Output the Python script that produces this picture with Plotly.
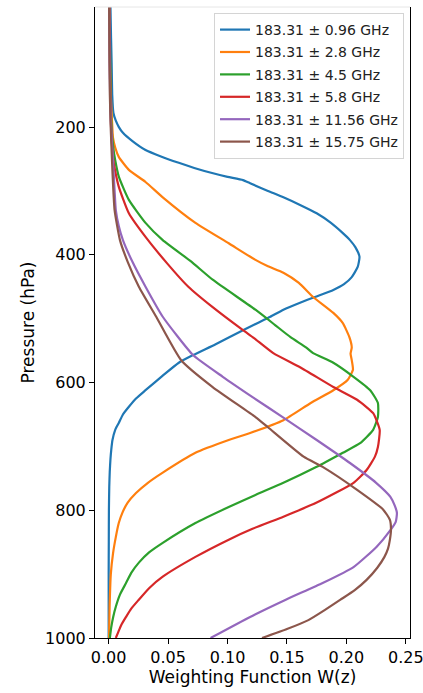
import plotly.graph_objects as go

# ---- data (pressure in hPa, weighting function W) ----
labels = ["183.31 ± 0.96 GHz", "183.31 ± 2.8 GHz", "183.31 ± 4.5 GHz",
          "183.31 ± 5.8 GHz", "183.31 ± 11.56 GHz", "183.31 ± 15.75 GHz"]
colors = ["#1f77b4", "#ff7f0e", "#2ca02c", "#d62728", "#9467bd", "#8c564b"]

p_096 = [12, 60, 100, 150, 178, 190, 200, 209, 222, 236, 246, 256, 264, 272, 278, 283, 288, 300,
         310, 322, 335, 350, 366, 377, 388, 403, 419, 435, 446, 455, 466, 475, 486, 497, 507, 518,
         540, 557, 569, 590, 612, 625, 638, 650, 663, 674, 690, 705, 720, 740, 763, 800, 850, 900, 1000]
w_096 = [0.0015, 0.002, 0.0025, 0.003, 0.004, 0.006, 0.0086, 0.012, 0.02, 0.031, 0.044, 0.059,
         0.072, 0.087, 0.100, 0.113, 0.119, 0.134, 0.147, 0.161, 0.175, 0.187, 0.197, 0.203, 0.2075,
         0.211, 0.2095, 0.2045, 0.198, 0.189, 0.1735, 0.161, 0.147, 0.136, 0.125, 0.113, 0.09, 0.071,
         0.059, 0.045, 0.031, 0.023, 0.017, 0.012, 0.0086, 0.0055, 0.0032, 0.0022, 0.0015, 0.0009,
         0.0005, 0.0002, 0.0001, 0.0, 0.0]

p_28 = [12, 100, 150, 190, 216, 232, 247, 267, 286, 310, 350, 382, 408, 418, 428, 444, 466, 491,
        507, 529, 545, 555, 565, 580, 596, 612, 632, 659, 679, 690, 710, 741, 757, 773, 788, 804,
        820, 842, 867, 900, 950, 1000]
w_28 = [0.0008, 0.0012, 0.0018, 0.0028, 0.0036, 0.0055, 0.0086, 0.017, 0.031, 0.0455, 0.073, 0.101,
        0.1235, 0.134, 0.147, 0.160, 0.172, 0.189, 0.197, 0.2025, 0.2045, 0.2035, 0.2045, 0.2055,
        0.201, 0.189, 0.170, 0.147, 0.119, 0.101, 0.073, 0.0455, 0.033, 0.023, 0.016, 0.0115,
        0.0085, 0.006, 0.0037, 0.0018, 0.0008, 0.0003]

p_45 = [12, 100, 150, 200, 228, 252, 278, 314, 350, 377, 410, 439, 486, 510, 529, 545, 554, 569,
        591, 612, 632, 654, 674, 695, 710, 732, 757, 776, 795, 820, 851, 866, 882, 898, 914, 932,
        951, 967, 983, 1000]
w_45 = [0.0008, 0.0012, 0.0016, 0.0024, 0.0036, 0.0055, 0.0086, 0.017, 0.031, 0.0455, 0.069,
        0.0875, 0.1235, 0.140, 0.153, 0.166, 0.172, 0.189, 0.206, 0.220, 0.2265, 0.2265, 0.2225,
        0.2115, 0.197, 0.175, 0.147, 0.1235, 0.101, 0.073, 0.0455, 0.034, 0.0254, 0.019, 0.0146,
        0.0095, 0.006, 0.0038, 0.0022, 0.001]

p_58 = [12, 100, 150, 200, 247, 270, 294, 335, 372, 413, 450, 482, 518, 530, 554, 576, 607, 627,
        648, 674, 701, 716, 737, 757, 788, 810, 829, 846, 873, 904, 922, 940, 954, 967, 980, 992, 1000]
w_58 = [0.0007, 0.001, 0.0014, 0.002, 0.0036, 0.0056, 0.0086, 0.017, 0.031, 0.049, 0.067, 0.0875,
        0.113, 0.122, 0.1385, 0.161, 0.189, 0.209, 0.2225, 0.228, 0.2265, 0.224, 0.217, 0.206,
        0.175, 0.147, 0.121, 0.101, 0.073, 0.0455, 0.034, 0.0254, 0.019, 0.0146, 0.0105, 0.0078,
        0.006]

p_1156 = [12, 100, 150, 189, 252, 300, 330, 355, 377, 411, 450, 497, 557, 591, 624, 655, 690, 726,
          757, 779, 792, 804, 818, 831, 857, 889, 914, 940, 967, 1000]
w_1156 = [0.0005, 0.0008, 0.0012, 0.0018, 0.0036, 0.005, 0.006, 0.0085, 0.012, 0.020, 0.031,
          0.0455, 0.071, 0.096, 0.122, 0.147, 0.175, 0.203, 0.225, 0.237, 0.2405, 0.2425, 0.2415,
          0.237, 0.2255, 0.206, 0.18, 0.149, 0.119, 0.0857]

p_1575 = [12, 100, 150, 205, 270, 330, 377, 411, 450, 497, 565, 607, 654, 670, 716, 732, 768, 799,
          815, 830, 846, 860, 873, 890, 909, 925, 940, 956, 972, 986, 1000]
w_1575 = [0.0004, 0.0007, 0.001, 0.0018, 0.0032, 0.005, 0.0095, 0.016, 0.0254, 0.040, 0.061,
          0.0875, 0.1235, 0.134, 0.164, 0.180, 0.209, 0.231, 0.2366, 0.2375, 0.2366, 0.235, 0.232,
          0.226, 0.217, 0.207, 0.195, 0.182, 0.168, 0.150, 0.129]

pressures = [p_096, p_28, p_45, p_58, p_1156, p_1575]
weights = [w_096, w_28, w_45, w_58, w_1156, w_1575]

y_ticks = [200, 400, 600, 800, 1000]
x_ticks = [0.0, 0.05, 0.10, 0.15, 0.20, 0.25]
x_tick_text = ["0.00", "0.05", "0.10", "0.15", "0.20", "0.25"]

FONT = "DejaVu Sans"

fig = go.Figure()
for i, (lab, col, p, w) in enumerate(zip(labels, colors, pressures, weights)):
    fig.add_trace(go.Scatter(x=w, y=p, mode="lines", name=lab, legendgroup=f"g{i}",
                             line=dict(color=col, width=2.2, shape="spline", smoothing=0.5)))

fig.update_layout(
    width=423, height=693,
    margin=dict(l=95, r=13, t=7, b=55, autoexpand=False),
    paper_bgcolor="white", plot_bgcolor="white",
    font=dict(family=FONT, color="black"),
    showlegend=True,
    legend=dict(x=0.981, y=0.9905, xanchor="right", yanchor="top",
                bgcolor="white", bordercolor="#d4d4d4", borderwidth=1,
                tracegroupgap=1.2,
                font=dict(family=FONT, size=14, color="#222222")),
)
fig.update_xaxes(
    range=[-0.0115, 0.2535], tickvals=x_ticks, ticktext=x_tick_text,
    ticklabeloverflow="allow", automargin=False,
    showgrid=False, zeroline=False, showline=True, linecolor="black", linewidth=1,
    ticks="outside", ticklen=5, tickcolor="black", tickfont=dict(size=16, family=FONT),
    title=dict(text="Weighting Function W(z)", font=dict(size=17, family=FONT), standoff=4),
)
fig.update_yaxes(
    range=[1000, 12], tickvals=y_ticks, automargin=False,
    showgrid=False, zeroline=False, showline=True, linecolor="black", linewidth=1, mirror=True,
    ticks="outside", ticklen=5, tickcolor="black", tickfont=dict(size=16, family=FONT),
    title=dict(text="Pressure (hPa)", font=dict(size=17, family=FONT), standoff=6),
)
fig.add_shape(type="line", xref="paper", yref="paper", x0=0, x1=1, y0=1, y1=1,
              line=dict(color="#e6e6e6", width=1))

fig.write_html("out.html")
